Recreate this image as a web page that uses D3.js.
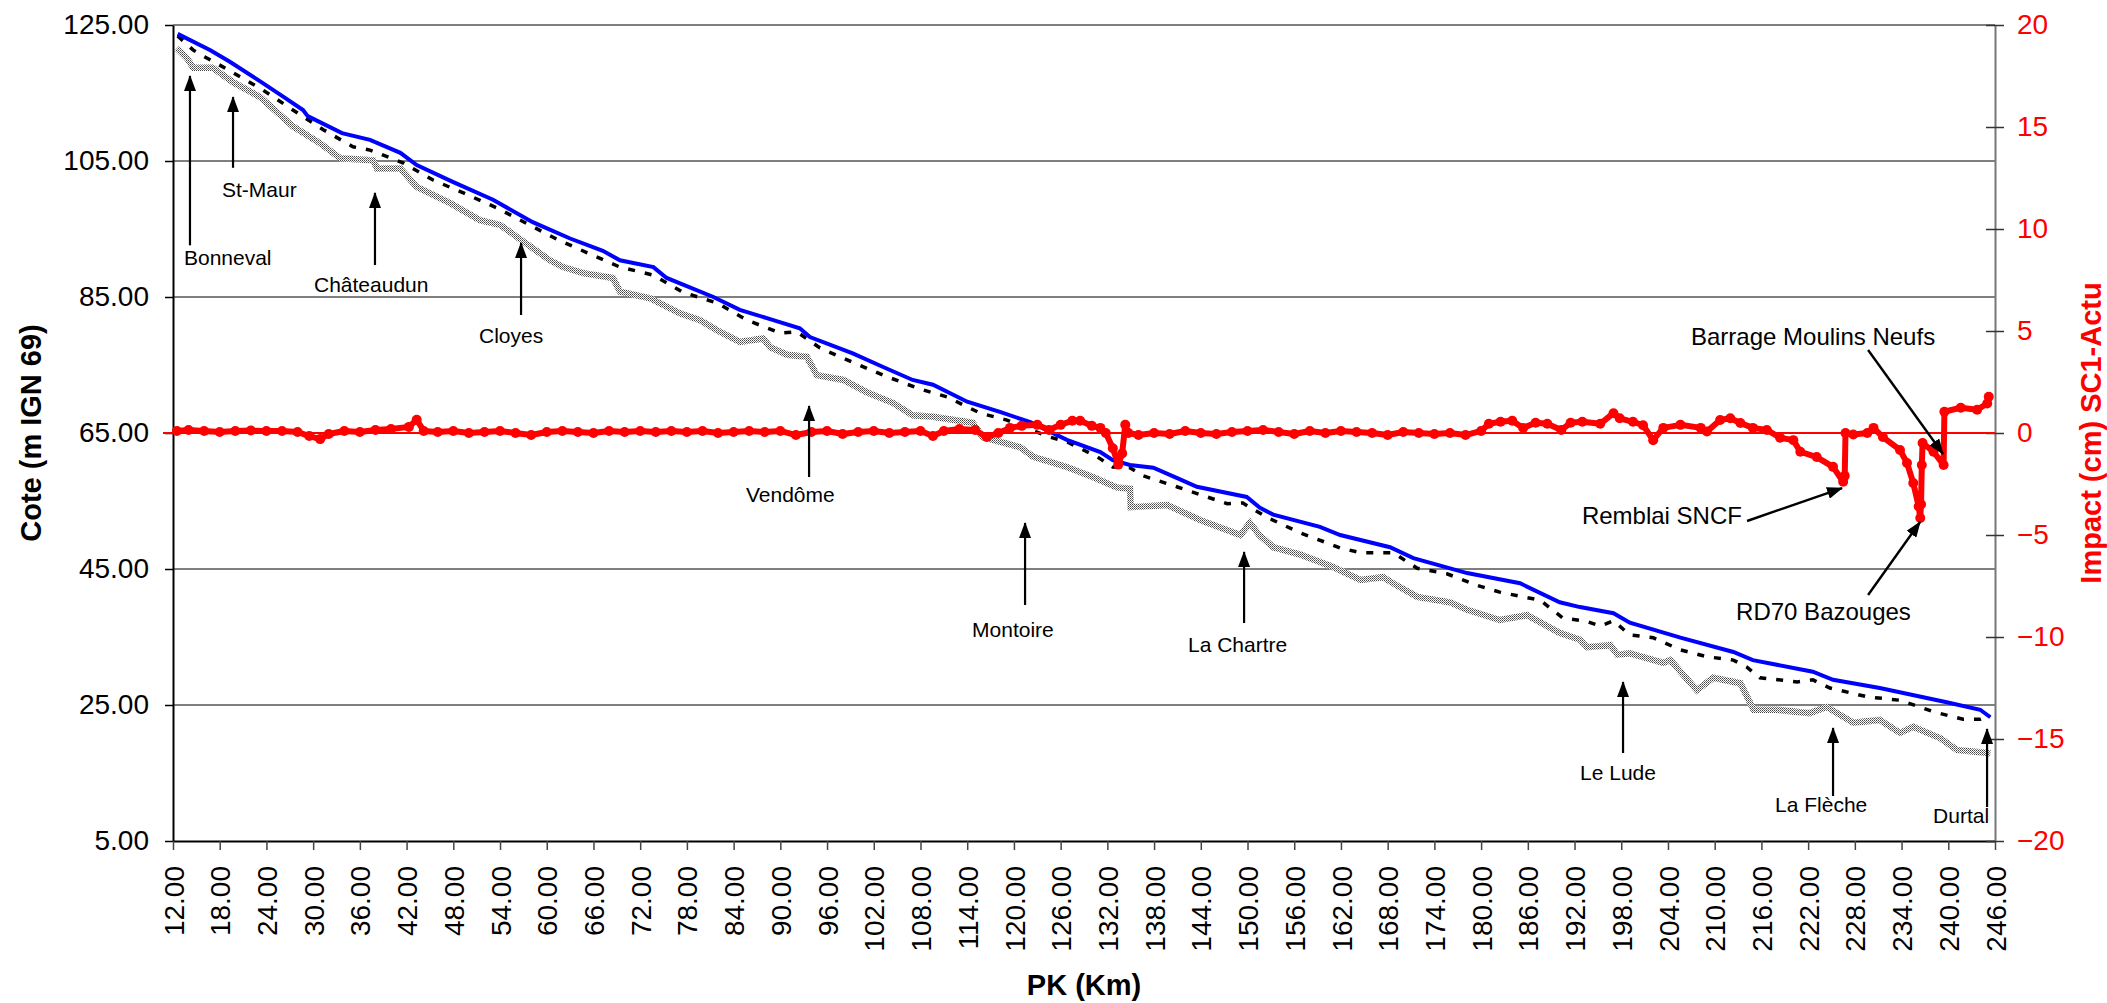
<!DOCTYPE html>
<html>
<head>
<meta charset="utf-8">
<script src="https://cdn.jsdelivr.net/npm/d3@7"></script>
<style>
body{margin:0;background:#fff;}
text{font-family:"Liberation Sans",Arial,sans-serif;}
</style>
</head>
<body>
<svg id="chart" width="2107" height="1003"></svg>
<script>
// ticks
var pkTicks = d3.range(12, 247, 6);
var leftTicks = [5, 25, 45, 65, 85, 105, 125];
var rightTicks = [-20, -15, -10, -5, 0, 5, 10, 15, 20];

// ligne d'eau (bleu)
var bluePk = [12.6,16.8,19.3,23.2,26.1,28.7,29.3,33.7,37.3,41.2,43.3,48.0,53.1,58.2,63.0,67.2,69.4,73.7,75.4,81.4,84.8,89.1,92.5,93.8,99.3,103.2,107.0,109.6,114.0,118.2,122.1,126.8,131.1,132.7,134.9,137.9,140.9,143.5,149.9,151.6,153.3,159.3,161.9,168.3,171.3,178.2,185.0,190.1,192.7,197.0,199.1,205.6,212.4,214.9,222.6,225.2,231.2,239.8,244.1,245.4];
var blueZ = [123.7,121.3,119.6,116.7,114.5,112.5,111.6,109.1,108.1,106.2,104.4,101.9,99.3,96.0,93.6,91.8,90.4,89.4,87.8,85.0,83.1,81.6,80.4,79.1,76.7,74.7,72.8,72.1,69.6,68.1,66.6,64.0,62.2,61.0,60.3,59.9,58.4,57.1,55.6,54.0,53.0,51.2,50.0,48.2,46.6,44.4,42.9,40.1,39.4,38.5,37.1,34.9,32.8,31.6,29.9,28.7,27.5,25.4,24.3,23.2];

// pointillés noirs
var dashPk = [12.6,14.6,16.1,18.0,23.6,27.4,31.3,35.1,37.3,41.6,45.4,49.3,53.6,61.3,65.2,69.4,71.6,73.7,77.5,81.9,85.7,90.0,92.1,95.1,99.3,103.2,107.6,111.4,115.7,119.1,124.6,126.8,130.7,132.7,134.9,136.6,140.9,147.4,149.4,152.5,156.8,161.0,161.9,164.5,168.7,171.8,175.6,179.5,182.4,187.6,190.5,193.5,195.3,197.0,199.1,202.1,205.6,209.0,212.4,214.1,215.8,220.6,222.6,224.8,229.6,233.8,238.1,241.9,244.1,245.4];
var dashZ = [123.4,121.3,120.3,119.1,115.4,112.5,109.6,107.1,106.6,104.7,102.2,100.3,98.1,93.5,91.5,89.4,88.8,88.2,85.7,84.1,81.6,79.7,79.9,77.5,75.4,73.5,71.6,70.3,67.9,66.9,64.4,63.7,61.5,60.0,59.9,58.7,57.1,54.6,54.7,52.6,50.3,48.5,48.1,47.4,47.4,45.1,44.3,42.6,41.6,40.4,37.8,37.3,36.6,37.4,35.3,34.9,33.1,32.1,31.6,30.6,29.0,28.4,28.7,27.5,26.2,25.7,24.0,22.9,22.9,23.5];

// fond (trame grise)
var grayPk = [12.5,13.8,14.6,17.1,19.7,23.2,27.4,30.9,33.5,37.7,38.2,41.2,43.3,47.6,51.4,54.0,56.2,60.4,62.1,64.7,68.5,69.4,73.3,77.1,79.7,81.9,84.8,87.8,88.7,90.9,93.4,94.7,98.1,101.1,104.5,107.0,109.6,114.7,116.0,120.8,122.5,126.8,130.2,133.2,134.9,135.0,139.7,143.9,149.1,150.3,151.5,153.3,156.8,161.0,164.5,167.4,168.7,171.8,176.0,178.2,182.4,185.9,190.1,192.7,193.6,196.6,197.5,199.1,203.4,204.3,207.7,209.8,213.3,215.0,218.0,222.2,224.4,227.8,231.2,233.8,235.5,239.0,241.1,245.4];
var grayZ = [121.6,120.1,118.7,118.7,116.6,114.4,110.1,107.6,105.4,105.1,103.9,103.9,101.2,98.8,96.3,95.6,93.8,90.4,89.4,88.5,87.8,85.8,84.8,82.6,81.6,80.1,78.4,78.9,77.6,76.5,76.2,73.5,72.8,71.0,69.4,67.6,67.4,66.5,64.4,62.9,61.5,60.0,58.5,57.0,56.8,54.1,54.4,52.2,50.0,51.8,50.0,48.2,47.1,45.3,43.4,43.8,42.9,40.9,40.1,39.0,37.5,38.2,35.6,34.6,33.5,33.8,32.4,32.6,31.2,31.6,27.2,29.0,28.2,24.3,24.3,23.8,24.7,22.4,22.8,20.9,21.8,20.1,18.4,17.9];

// impact SC1-Actu (cm), axe de droite
var redPk = [12.5,14,16,18,20,22,24,26,28,29.5,30.9,32,34,36,38,40,42.3,43.3,44.2,46,48,50,52,54,56,58,60,62,64,66,68,70,72,74,76,78,80,82,84,86,88,90,92,94,96,98,100,102,104,106,108,109.6,111,113,115,116.5,118,119.5,121,123,124.5,126,127.5,128.5,130,131.1,131.8,132.7,133.4,133.9,134.3,134.7,136,138,140,142,144,146,148,150,152,154,156,158,160,162,164,166,168,170,172,174,176,178,180,181,182.5,184,185.4,187,188.5,190.3,191.5,193,195.3,197,197.8,199.5,200.8,202.1,203.4,205.6,208.2,209,210.7,212,213.3,214.9,216.7,218.4,220.1,221,223.1,225.2,226.5,226.7,226.8,227.8,229.6,230.4,231.6,233.8,234.7,235.5,236.2,236.4,236.5,236.6,236.7,238.1,239.4,239.5,241.6,243.7,245,245.2];
var redV = [0.1,0.15,0.1,0.05,0.1,0.12,0.1,0.1,0.05,-0.15,-0.3,-0.05,0.1,0.05,0.15,0.2,0.3,0.65,0.1,0.05,0.1,0,0.05,0.1,0,-0.1,0.05,0.1,0.05,0,0.1,0.05,0.1,0.05,0.1,0.05,0.1,0,0.05,0.1,0.05,0.1,-0.1,0.05,0.1,-0.05,0.05,0.1,0,0.05,0.1,-0.15,0.1,0.2,0.15,-0.2,0,0.25,0.35,0.4,0.15,0.4,0.6,0.6,0.35,0.25,0,-0.75,-1.55,-1,0.4,0,-0.1,0,-0.05,0.1,0,-0.05,0.05,0.1,0.15,0.05,-0.05,0.1,0,0.1,0.05,0,-0.1,0.05,0,-0.05,0,-0.1,0.1,0.45,0.55,0.6,0.25,0.5,0.45,0.15,0.5,0.55,0.45,0.97,0.72,0.55,0.38,-0.35,0.25,0.4,0.25,0.07,0.64,0.72,0.49,0.25,0.15,-0.23,-0.35,-0.92,-1.18,-1.66,-2.39,-2.1,0,-0.07,0,0.25,-0.2,-0.83,-1.47,-2.45,-3.6,-4.17,-3.5,-1.57,-0.49,-0.92,-1.57,1.04,1.24,1.14,1.45,1.78];

// annotations : [texte, pk flèche, cote pointe, cote queue, pk texte, cote texte, ancrage, taille]
var villes = [
  ["Bonneval", 14.18, 117.5, 92.6, 13.41, 89.7, "start", 21],
  ["St-Maur", 19.71, 114.4, 104.0, 18.29, 99.7, "start", 21],
  ["Châteaudun", 37.94, 100.3, 89.7, 30.11, 85.74, "start", 21],
  ["Cloyes", 56.70, 92.94, 82.35, 51.30, 78.24, "start", 21],
  ["Vendôme", 93.69, 68.97, 58.53, 85.59, 54.85, "start", 21],
  ["Montoire", 121.43, 51.76, 39.71, 114.62, 35.0, "start", 21],
  ["La Chartre", 149.56, 47.5, 37.06, 142.36, 32.79, "start", 21],
  ["Le Lude", 198.23, 28.38, 17.94, 192.71, 13.97, "start", 21],
  ["La Flèche", 225.2, 21.62, 11.62, 217.75, 9.26, "start", 21],
  ["Durtal", 244.98, 21.47, 10.0, 245.24, 7.65, "end", 21]
];
// ouvrages : [texte, pk texte, cote texte, ancrage, pk queue, cote queue, pk pointe, cote pointe]
var ouvrages = [
  ["Barrage Moulins Neufs", 206.96, 77.94, "start", 229.7, 77.2, 239.33, 61.91],
  ["Remblai SNCF", 213.5, 51.62, "end", 214.16, 52.06, 226.36, 56.91],
  ["RD70 Bazouges", 212.75, 37.5, "start", 229.7, 41.18, 236.38, 51.91]
];

var width = 2107, height = 1003;
var svg = d3.select("#chart");

var x = d3.scaleLinear().domain([12, 246]).range([173, 1995]);
var yL = d3.scaleLinear().domain([5, 125]).range([841, 25]);
var yR = d3.scaleLinear().domain([-20, 20]).range([841, 25]);

var defs = svg.append("defs");
var pat = defs.append("pattern")
	.attr("id", "trame")
	.attr("width", 2).attr("height", 2)
	.attr("patternUnits", "userSpaceOnUse");
pat.append("rect").attr("width", 2).attr("height", 2).attr("fill", "#ffffff");
pat.append("rect").attr("width", 1).attr("height", 1).attr("fill", "#444");
pat.append("rect").attr("x", 1).attr("y", 1).attr("width", 1).attr("height", 1).attr("fill", "#777");

defs.append("marker")
	.attr("id", "fleche")
	.attr("viewBox", "0 0 16 12")
	.attr("refX", 15).attr("refY", 6)
	.attr("markerWidth", 16).attr("markerHeight", 12)
	.attr("markerUnits", "userSpaceOnUse")
	.attr("orient", "auto")
	.append("path")
	.attr("d", "M0,0 L16,6 L0,12 Z")
	.attr("fill", "black");

// gridlines
leftTicks.filter(function(d){ return d != 5; }).forEach(function(d)
{
	svg.append("line")
		.attr("x1", x(12)).attr("x2", x(246))
		.attr("y1", yL(d)).attr("y2", yL(d))
		.style("stroke", "#555")
		.style("stroke-width", 1.4);
});

// axes
var axL = svg.append("g")
	.attr("transform", "translate(" + x(12) + ",0)")
	.call(d3.axisLeft(yL).tickValues(leftTicks).tickFormat(d3.format(".2f")).tickSize(8).tickSizeOuter(0).tickPadding(16));
axL.select(".domain").style("stroke", "black").style("stroke-width", 2);
axL.selectAll(".tick line").style("stroke", "black").style("stroke-width", 1.5);
axL.selectAll("text").style("font-size", "28px").style("fill", "black").style("font-family", "Liberation Sans, Arial, sans-serif");

var axB = svg.append("g")
	.attr("transform", "translate(0," + yL(5) + ")")
	.call(d3.axisBottom(x).tickValues(pkTicks).tickFormat(d3.format(".2f")).tickSize(9).tickSizeOuter(0));
axB.select(".domain").style("stroke", "black").style("stroke-width", 2);
axB.selectAll(".tick line").style("stroke", "#444").style("stroke-width", 1.5);
axB.selectAll("text")
	.attr("transform", "rotate(-90)")
	.attr("text-anchor", "end")
	.attr("x", -25).attr("y", 0).attr("dy", "0.36em")
	.style("font-size", "28px").style("fill", "black").style("font-family", "Liberation Sans, Arial, sans-serif");

var axR = svg.append("g")
	.attr("transform", "translate(" + x(246) + ",0)")
	.call(d3.axisRight(yR).tickValues(rightTicks).tickSize(9).tickSizeOuter(0).tickPadding(13));
axR.select(".domain").style("stroke", "#777").style("stroke-width", 2);
axR.selectAll(".tick line").attr("x1", -9).attr("x2", 9).style("stroke", "#333").style("stroke-width", 1.5);
axR.selectAll("text").style("font-size", "28px").style("fill", "red").style("font-family", "Liberation Sans, Arial, sans-serif");

// series
function pts(a, b) { return a.map(function(d, i){ return [d, b[i]]; }); }

var lineL = d3.line().x(function(d){ return x(d[0]); }).y(function(d){ return yL(d[1]); });
var lineR = d3.line().x(function(d){ return x(d[0]); }).y(function(d){ return yR(d[1]); });

svg.append("path")
	.datum(pts(grayPk, grayZ))
	.attr("d", lineL)
	.style("fill", "none")
	.style("stroke", "url(#trame)")
	.style("stroke-width", 6.5);

svg.append("path")
	.datum(pts(dashPk, dashZ))
	.attr("d", lineL)
	.style("fill", "none")
	.style("stroke", "black")
	.style("stroke-width", 3.5)
	.style("stroke-dasharray", "7,10");

svg.append("path")
	.datum(pts(bluePk, blueZ))
	.attr("d", lineL)
	.style("fill", "none")
	.style("stroke", "#0000ff")
	.style("stroke-width", 4);

// zero line of impact
svg.append("line")
	.attr("x1", x(12) - 10).attr("x2", x(246))
	.attr("y1", yR(0)).attr("y2", yR(0))
	.style("stroke", "red")
	.style("stroke-width", 2.2);

var redData = pts(redPk, redV);
svg.append("path")
	.datum(redData)
	.attr("d", lineR)
	.style("fill", "none")
	.style("stroke", "red")
	.style("stroke-width", 6)
	.style("stroke-linejoin", "round");

svg.selectAll("circle.imp")
	.data(redData)
	.enter().append("circle")
	.attr("class", "imp")
	.attr("cx", function(d){ return x(d[0]); })
	.attr("cy", function(d){ return yR(d[1]); })
	.attr("r", 5)
	.style("fill", "red");

// annotations
villes.forEach(function(v)
{
	svg.append("line")
		.attr("x1", x(v[1])).attr("x2", x(v[1]))
		.attr("y1", yL(v[3])).attr("y2", yL(v[2]))
		.style("stroke", "black")
		.style("stroke-width", 2.2)
		.attr("marker-end", "url(#fleche)");
	svg.append("text")
		.attr("x", x(v[4])).attr("y", yL(v[5]))
		.attr("text-anchor", v[6])
		.style("font-size", v[7] + "px")
		.text(v[0]);
});

ouvrages.forEach(function(o)
{
	svg.append("line")
		.attr("x1", x(o[4])).attr("y1", yL(o[5]))
		.attr("x2", x(o[6])).attr("y2", yL(o[7]))
		.style("stroke", "black")
		.style("stroke-width", 2.4)
		.attr("marker-end", "url(#fleche)");
	svg.append("text")
		.attr("x", x(o[1])).attr("y", yL(o[2]))
		.attr("text-anchor", o[3])
		.style("font-size", "24px")
		.text(o[0]);
});

// titles
svg.append("text")
	.attr("transform", "translate(41," + yL(65) + ") rotate(-90)")
	.attr("text-anchor", "middle")
	.style("font-size", "29px")
	.style("font-weight", "bold")
	.text("Cote (m IGN 69)");

svg.append("text")
	.attr("x", (x(12) + x(246)) / 2)
	.attr("y", 995)
	.attr("text-anchor", "middle")
	.style("font-size", "29px")
	.style("font-weight", "bold")
	.text("PK (Km)");

svg.append("text")
	.attr("transform", "translate(2101," + yR(0) + ") rotate(-90)")
	.attr("text-anchor", "middle")
	.style("font-size", "29px")
	.style("font-weight", "bold")
	.style("fill", "red")
	.text("Impact (cm) SC1-Actu");
</script>
</body>
</html>
